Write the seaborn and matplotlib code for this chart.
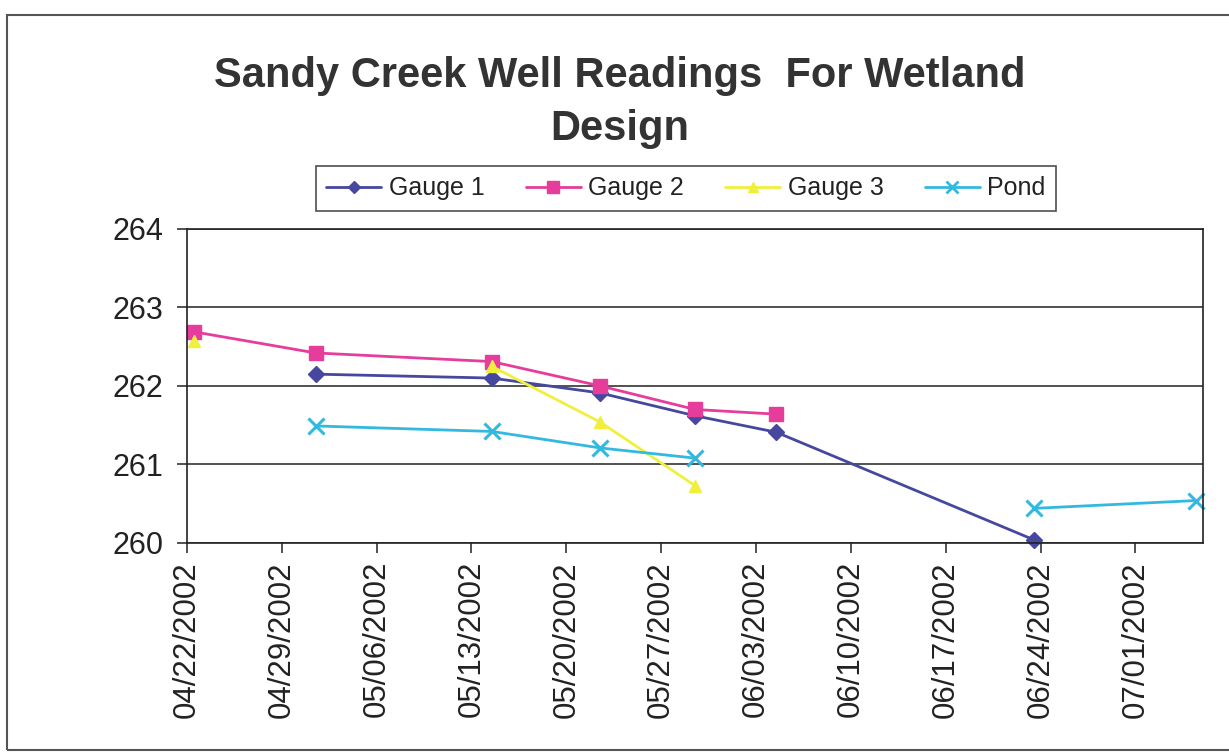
import numpy as np
import pandas as pd
import matplotlib
matplotlib.use("Agg")
import matplotlib.pyplot as plt
import matplotlib.dates as mdates
from matplotlib.lines import Line2D
from matplotlib.patches import Rectangle
import seaborn as sns

# -----------------------------
# Data
# -----------------------------
dates = ["2002-04-22", "2002-05-01", "2002-05-14", "2002-05-22",
         "2002-05-29", "2002-06-04", "2002-06-23", "2002-07-05"]
gauge1 = [np.nan, 262.15, 262.10, 261.91, 261.62, 261.41, 260.04, np.nan]
gauge2 = [262.69, 262.42, 262.31, 262.00, 261.70, 261.64, np.nan, np.nan]
gauge3 = [262.57, np.nan, 262.25, 261.54, 260.73, np.nan, np.nan, np.nan]
pond = [np.nan, 261.49, 261.42, 261.21, 261.08, np.nan, 260.44, 260.54]

series_names = ["Gauge 1", "Gauge 2", "Gauge 3", "Pond"]
series_vals = [gauge1, gauge2, gauge3, pond]

tick_dates = ["2002-04-22", "2002-04-29", "2002-05-06", "2002-05-13", "2002-05-20",
              "2002-05-27", "2002-06-03", "2002-06-10", "2002-06-17", "2002-06-24",
              "2002-07-01"]
y_ticks = [260, 261, 262, 263, 264]

# styles
colors = {"Gauge 1": "#45489e", "Gauge 2": "#e63d9c", "Gauge 3": "#f0f03c", "Pond": "#33b9e0"}
markers = {"Gauge 1": "D", "Gauge 2": "s", "Gauge 3": "^", "Pond": "x"}
msizes = {"Gauge 1": 8, "Gauge 2": 10, "Gauge 3": 9, "Pond": 11}

# -----------------------------
# Long table; blank cells break the line (units = segment id)
# -----------------------------
rows = []
for name, vals in zip(series_names, series_vals):
    seg = np.cumsum(np.isnan(vals))
    for d, v, s in zip(dates, vals, seg):
        if not np.isnan(v):
            # Excel date axis puts each point in the middle of its day
            rows.append({"date": pd.Timestamp(d) + pd.Timedelta(hours=12),
                         "level": v, "series": name, "seg": f"{name}-{s}"})
df = pd.DataFrame(rows)

# -----------------------------
# Plot
# -----------------------------
sns.set_style("white")
plt.rcParams["font.family"] = ["Liberation Sans", "DejaVu Sans"]
TXT = "#222222"

fig = plt.figure(figsize=(12.29, 7.53), dpi=100)
ax = fig.add_axes([0.152, 0.279, 0.827, 0.417])

for name in series_names:
    sub = df[df["series"] == name]
    sns.lineplot(data=sub, x="date", y="level", units="seg", estimator=None,
                 sort=False, color=colors[name], marker=markers[name],
                 markersize=msizes[name], markeredgecolor=colors[name],
                 markeredgewidth=2.2 if name == "Pond" else 1,
                 linewidth=2, legend=False, ax=ax, clip_on=False)

ax.set_xlim(pd.Timestamp("2002-04-22"), pd.Timestamp("2002-07-06"))
ax.set_ylim(260, 264)
ax.set_yticks(y_ticks)
ax.set_xticks([pd.Timestamp(t) for t in tick_dates])
ax.xaxis.set_major_formatter(mdates.DateFormatter("%m/%d/%Y"))
ax.tick_params(axis="x", labelrotation=90, labelsize=22.5, length=7, width=1.2,
               direction="out", colors="#333", labelcolor=TXT, pad=6, bottom=True)
ax.tick_params(axis="y", labelsize=22, length=7, width=1.2, direction="out",
               colors="#333", labelcolor=TXT, pad=10, left=True)
ax.set_xlabel("")
ax.set_ylabel("")
ax.grid(axis="y", color="#333333", linewidth=1.2)
ax.grid(axis="x", visible=False)
for sp in ax.spines.values():
    sp.set_color("#222222")
    sp.set_linewidth(1.2)

# title
fig.text(0.504, 0.864, "Sandy Creek Well Readings  For Wetland\nDesign",
         ha="center", va="center", fontsize=30, fontweight="bold",
         color="#333333", linespacing=1.42)

# legend
handles = [Line2D([0], [0], color=colors[n], marker=markers[n], markersize=msizes[n] * 0.8,
                  markeredgecolor=colors[n], markeredgewidth=2 if n == "Pond" else 1,
                  linewidth=2) for n in series_names]
leg = fig.legend(handles, series_names, loc="center", bbox_to_anchor=(0.558, 0.750),
                 ncol=4, fontsize=18, frameon=True, fancybox=False, edgecolor="#222222",
                 handlelength=2.2, handletextpad=0.3, columnspacing=1.65,
                 borderpad=0.42, labelcolor=TXT)
leg.get_frame().set_linewidth(1.2)

# outer chart frame
fig.patches.append(Rectangle((0.006, 0.004), 1.0, 0.976, transform=fig.transFigure,
                             fill=False, edgecolor="#555555", linewidth=1.5))

fig.savefig("out.png", dpi=100)
plt.close(fig)
